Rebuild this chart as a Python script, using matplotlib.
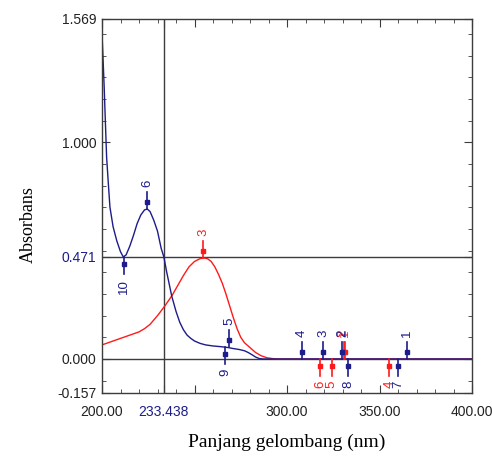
import numpy as np
import matplotlib.pyplot as plt

# --- spectrum data ---
blue_nm = [200, 200.5, 201.2, 201.8, 202.5, 203.5, 204.3, 206, 208, 210, 211.5, 213, 215,
           217, 219, 221, 223, 224.5, 226, 228, 230, 232, 233.438, 235, 237.7, 240, 242,
           244, 246, 248, 250, 253, 256, 260, 264, 268, 271, 274, 277, 279, 281, 283,
           285, 287, 300, 350, 400]
blue_abs = [1.50, 1.40, 1.25, 1.10, 0.93, 0.80, 0.70, 0.61, 0.545, 0.495, 0.471, 0.48, 0.52,
            0.57, 0.625, 0.665, 0.688, 0.692, 0.68, 0.64, 0.59, 0.51, 0.471, 0.40, 0.29, 0.22, 0.17,
            0.135, 0.11, 0.095, 0.083, 0.072, 0.065, 0.06, 0.057, 0.053, 0.048, 0.044, 0.038, 0.03,
            0.02, 0.009, 0.002, 0.0, 0.0, 0.0, 0.0]

red_nm = [200, 205, 210, 215, 220, 223, 226, 230, 234, 238, 241, 244, 247, 250, 253, 255,
          257, 259, 261, 263, 265, 267, 269, 271, 273, 275, 277, 279, 281, 283, 286, 289,
          292, 295, 350, 400]
red_abs = [0.065, 0.08, 0.095, 0.11, 0.125, 0.14, 0.16, 0.20, 0.245, 0.295, 0.34, 0.385, 0.425,
           0.45, 0.463, 0.466, 0.463, 0.45, 0.425, 0.39, 0.35, 0.30, 0.245, 0.19, 0.14, 0.10,
           0.075, 0.06, 0.045, 0.03, 0.015, 0.006, 0.002, 0.0, 0.0, 0.0]

# peak / valley picks: (number, wavelength, absorbance)
blue_peaks = [(1, 364.7, 0.0), (2, 329.9, 0.0), (3, 319.6, 0.0), (4, 308.0, 0.0),
              (5, 268.8, 0.053), (6, 224.3, 0.692)]
blue_valleys = [(7, 360.2, 0.0), (8, 333.2, 0.0), (9, 266.5, 0.055), (10, 211.8, 0.47)]
red_peaks = [(2, 330.6, 0.0), (1, 331.2, 0.0), (3, 254.6, 0.466)]
red_valleys = [(4, 355.3, 0.0), (5, 324.1, 0.0), (6, 317.8, 0.0)]

cursor_x = 233.438
cursor_y = 0.471
ymin, ymax = -0.157, 1.569

blue = '#1c1c8a'
red = '#ff1a1a'
grey = '#3c3c3c'

fig = plt.figure(figsize=(4.92, 4.58), dpi=100)
ax = fig.add_axes([102 / 492, 1 - 393 / 458, 370 / 492, 374 / 458])

ax.axhline(0, color=grey, lw=1)
ax.axhline(cursor_y, color=grey, lw=1)
ax.axvline(cursor_x, color=grey, lw=1)

ax.plot(red_nm, red_abs, color=red, lw=1)
ax.plot(blue_nm, blue_abs, color=blue, lw=1)

px = (ymax - ymin) / 374.0  # one pixel in data units


def pick(num, x, y, color, up):
    s = 1 if up else -1
    ax.plot([x, x], [y, y + s * 17 * px], color=color, lw=1.2)
    ax.plot(x, y + s * 7 * px, 's', color=color, ms=3)
    ax.text(x, y + s * 22 * px, str(num), color=color, fontsize=9.5, rotation=90,
            ha='center', va='bottom' if up else 'top', family='Liberation Sans')


for n, x, y in red_peaks:
    pick(n, x, y, red, True)
for n, x, y in red_valleys:
    pick(n, x, y, red, False)
for n, x, y in blue_peaks:
    pick(n, x, y, blue, True)
for n, x, y in blue_valleys:
    pick(n, x, y, blue, False)

ax.set_xlim(200, 400)
ax.set_ylim(ymin, ymax)

ax.set_xticks([200, cursor_x, 250, 300, 350, 400])
ax.set_xticklabels(['200.00', '233.438', '', '300.00', '350.00', '400.00'])
ax.set_xticks(np.arange(210, 400, 10), minor=True)
ax.set_yticks([ymin, 0, cursor_y, 1.0, ymax])
ax.set_yticklabels(['-0.157', '0.000', '0.471', '1.000', '1.569'])
ax.set_yticks([-0.1, 0.1, 0.2, 0.3, 0.4, 0.5, 0.6, 0.7, 0.8, 0.9, 1.1, 1.2, 1.3, 1.4, 1.5],
              minor=True)
ax.get_xticklabels()[1].set_color(blue)
ax.get_yticklabels()[2].set_color(blue)

ax.tick_params(which='both', direction='in', top=True, right=True, color=grey)
ax.tick_params(which='major', length=6, labelsize=10, labelcolor='#222222')
ax.tick_params(which='minor', length=3)
ax.tick_params(axis='x', pad=9)
ax.tick_params(axis='y', pad=4)
for lab in ax.get_xticklabels() + ax.get_yticklabels():
    lab.set_family('Liberation Sans')
ax.get_xticklabels()[1].set_color(blue)
ax.get_yticklabels()[2].set_color(blue)

for sp in ax.spines.values():
    sp.set_color(grey)
    sp.set_linewidth(1)

fig.text(287 / 492, 1 - 442 / 458, 'Panjang gelombang (nm)', ha='center', va='center',
         family='Liberation Serif', fontsize=14)
fig.text(28 / 492, 1 - 225 / 458, 'Absorbans', ha='center', va='center', rotation=90,
         family='Liberation Serif', fontsize=13)

fig.savefig('out.png', dpi=100)
